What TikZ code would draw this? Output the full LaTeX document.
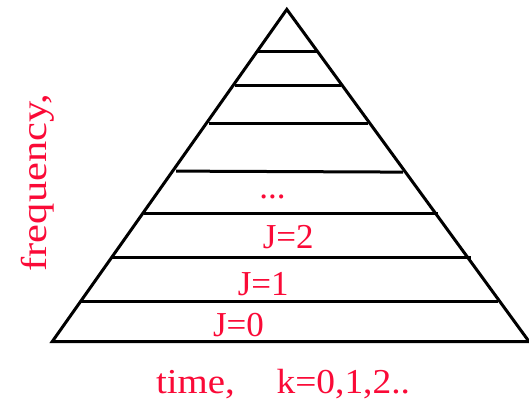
\documentclass[tikz,border=0pt]{standalone}
\usepackage{fontspec}
\setmainfont{Liberation Serif}
\definecolor{lblred}{RGB}{250,10,55}
\tikzset{
  edge/.style={line width=3pt, line join=miter},
  level/.style={line width=3pt},
  lbl/.style={text=lblred, inner sep=0pt, font=\fontsize{35}{40}\selectfont, anchor=base}
}
\begin{document}
\begin{tikzpicture}[x=1pt,y=-1pt]
\useasboundingbox (0,0) rectangle (529,401);
% triangle
\coordinate (apex) at (286.8,9.4);
\coordinate (bl) at (52.3,341.5);
\coordinate (br) at (529,341.5);
\draw[edge] (bl) -- (apex) -- (br) -- cycle;
% level lines
\coordinate (l1a) at (258,51.1);    \coordinate (l1b) at (317,51.1);
\coordinate (l2a) at (234.5,85.2);  \coordinate (l2b) at (340.8,85.2);
\coordinate (l3a) at (208.5,123.6); \coordinate (l3b) at (367.7,123.6);
\coordinate (l4a) at (176.1,171.1); \coordinate (l4b) at (403.2,172.1);
\coordinate (l5a) at (144.4,213.2); \coordinate (l5b) at (437.9,213.2);
\coordinate (l6a) at (111.3,257.9); \coordinate (l6b) at (470.6,257.9);
\coordinate (l7a) at (81,301.7);    \coordinate (l7b) at (497.6,301.7);
\foreach \i in {1,...,7}{\draw[level] (l\i a) -- (l\i b);}
% labels
\node[lbl] (dots) at (272.5,198) {...};
\node[lbl] (j2) at (288.3,248.3) {J=2};
\node[lbl] (j1) at (263.3,295) {J=1};
\node[lbl] (j0) at (238.5,336.5) {J=0};
\node[lbl] (time) at (195.5,393.5) {\scalebox{1.11}[1]{time,}};
\node[lbl] (k) at (343.3,393.5) {\scalebox{1.07}[1]{k=0,1,2..}};
\node[lbl, rotate=90] (freq) at (46.7,182.5) {\scalebox{1.18}[1]{\fontsize{36}{40}\selectfont frequency,}};
\end{tikzpicture}
\end{document}
